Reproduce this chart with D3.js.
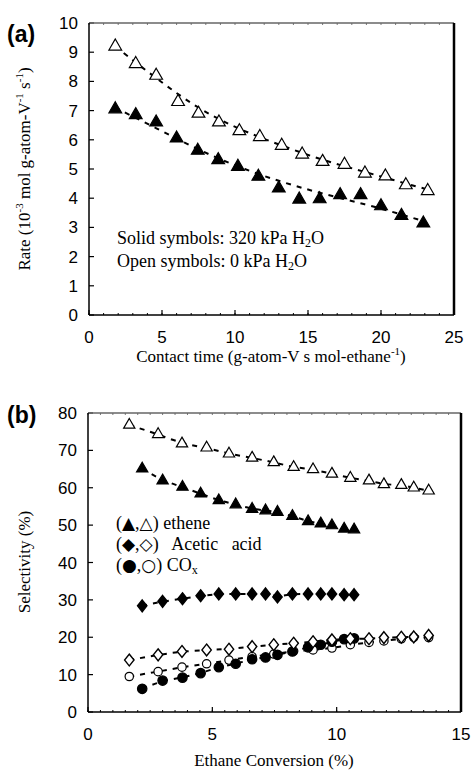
<!DOCTYPE html>
<html><head><meta charset="utf-8">
<script src="https://cdn.jsdelivr.net/npm/d3@7"></script>
<style>body{margin:0;background:#fff}svg{display:block}</style>
</head><body>
<svg id="c" width="473" height="770"></svg>
<script>
// ---- Panel (a) data ----
const aOpenX = [1.8,3.2,4.6,6.1,7.5,8.9,10.3,11.7,13.2,14.6,16.0,17.5,18.9,20.3,21.7,23.2];
const aOpenY = [9.2,8.6,8.2,7.3,6.9,6.6,6.3,6.1,5.8,5.5,5.25,5.15,4.85,4.75,4.45,4.25];
const aSolidX = [1.8,3.2,4.6,6.0,7.45,8.85,10.2,11.6,13.0,14.4,15.8,17.2,18.6,20.0,21.4,22.9];
const aSolidY = [7.05,6.85,6.6,6.05,5.63,5.31,5.08,4.74,4.34,3.96,3.97,4.11,4.11,3.73,3.4,3.14];
const aOpenTrendX = [1.8,4.6,7.5,10.3,13.2,16.0,18.9,21.7,23.2];
const aOpenTrendY = [9.2,8.1,7.05,6.35,5.8,5.3,4.9,4.5,4.3];
const aSolidTrendX = [1.8,4.6,7.5,10.3,13.2,16.0,18.9,21.7,23.0];
const aSolidTrendY = [7.1,6.4,5.65,5.05,4.55,4.15,3.8,3.4,3.2];
const aXTicks = [0,5,10,15,20,25];
const aYTicks = [0,1,2,3,4,5,6,7,8,9,10];

// ---- Panel (b) data ----
const bOpenX = [1.66,2.82,3.78,4.77,5.67,6.6,7.47,8.27,9.05,9.81,10.55,11.3,11.9,12.6,13.1,13.7];
const bSolidX = [2.18,3.0,3.8,4.53,5.26,5.94,6.6,7.14,7.62,8.22,8.85,9.36,9.81,10.3,10.7];
const bEtheneOpen = [76.8,74.3,71.8,70.7,69.1,68.0,66.8,65.5,64.9,63.7,62.6,61.9,60.9,60.7,60.0,59.2];
const bEtheneSolid = [65.1,61.9,60.2,58.4,56.6,55.5,54.3,53.9,53.5,52.4,51.0,50.4,49.9,49.0,48.8];
const bAceticOpen = [13.9,15.3,16.2,16.6,16.8,17.5,18.0,18.4,18.8,19.3,19.6,19.6,19.9,20.0,20.1,20.5];
const bAceticSolid = [28.4,29.6,30.3,31.1,31.6,31.6,31.6,31.6,30.8,31.6,31.6,31.6,31.6,31.4,31.4];
const bCOxOpen = [9.5,10.8,12.0,12.9,13.9,14.8,15.5,16.3,16.6,17.1,18.0,18.6,19.0,19.6,20.0,19.9];
const bCOxSolid = [6.2,8.4,9.2,10.4,12.0,12.9,14.1,14.6,15.3,16.2,17.3,18.0,18.8,19.5,19.7];
const bXTicks = [0,5,10,15];
const bYTicks = [0,10,20,30,40,50,60,70,80];

const svg = d3.select('#c');
const serif = '"Liberation Serif","Times New Roman",serif';
const sans = '"Liberation Sans",Arial,sans-serif';

function frame(g, x, y, xMax, yMax, xMinorStep, xTicks, yTicks) {
  const [x0, x1] = x.range(), [y1, y0] = y.range();
  const minors = d3.range(0, xMax + 1e-9, xMinorStep);
  g.append('g').selectAll('line').data(minors).join('line')
    .attr('x1', d => x(d)).attr('x2', d => x(d))
    .attr('y1', y1).attr('y2', y1 - 2).attr('stroke', '#000').attr('stroke-width', 1);
  g.append('g').selectAll('line').data(minors).join('line')
    .attr('x1', d => x(d)).attr('x2', d => x(d))
    .attr('y1', y0).attr('y2', y0 + 2).attr('stroke', '#777').attr('stroke-width', 1);
  g.append('g').selectAll('line').data(xTicks).join('line')
    .attr('x1', d => x(d)).attr('x2', d => x(d))
    .attr('y1', y1).attr('y2', y1 - 5).attr('stroke', '#000').attr('stroke-width', 1.2);
  g.append('g').selectAll('line').data(yTicks).join('line')
    .attr('x1', x0).attr('x2', x0 + 5)
    .attr('y1', d => y(d)).attr('y2', d => y(d)).attr('stroke', '#000').attr('stroke-width', 1.2);
  g.append('line').attr('x1', x0).attr('x2', x1).attr('y1', y0).attr('y2', y0).attr('stroke', '#666').attr('stroke-width', 1.5);
  g.append('line').attr('x1', x1).attr('x2', x1).attr('y1', y0).attr('y2', y1).attr('stroke', '#000').attr('stroke-width', 2.5);
  g.append('line').attr('x1', x0).attr('x2', x0).attr('y1', y0).attr('y2', y1).attr('stroke', '#000').attr('stroke-width', 1.5);
  g.append('line').attr('x1', x0).attr('x2', x1).attr('y1', y1).attr('y2', y1).attr('stroke', '#000').attr('stroke-width', 1.5);
  g.append('g').selectAll('text').data(xTicks).join('text')
    .attr('x', d => x(d)).attr('y', y1 + 28).attr('text-anchor', 'middle')
    .attr('font-family', sans).attr('font-size', 17).text(d => d);
  g.append('g').selectAll('text').data(yTicks).join('text')
    .attr('x', x0 - 11).attr('y', d => y(d) + 6).attr('text-anchor', 'end')
    .attr('font-family', sans).attr('font-size', 17).text(d => d);
}

function dash(g, xs, ys, x, y, curve) {
  const pts = xs.map((d, i) => [d, ys[i]]);
  g.append('path').attr('d', d3.line().x(d => x(d[0])).y(d => y(d[1])).curve(curve)(pts))
    .attr('fill', 'none').attr('stroke', '#000').attr('stroke-width', 2).attr('stroke-dasharray', '5,6');
}
function marks(g, xs, ys, x, y, type, size, filled) {
  const sym = d3.symbol(type, size);
  g.append('g').selectAll('path').data(xs.map((d, i) => [d, ys[i]])).join('path')
    .attr('transform', d => `translate(${x(d[0])},${y(d[1])})` + (type === d3.symbolDiamond ? ' scale(1.3,0.95)' : ''))
    .attr('d', sym).attr('fill', filled ? '#000' : '#fff').attr('stroke', '#000').attr('stroke-width', 1.2);
}

// ---------- Panel (a) ----------
const ga = svg.append('g');
const xa = d3.scaleLinear().domain([0, 25]).range([89, 454]);
const ya = d3.scaleLinear().domain([0, 10]).range([315, 23]);
frame(ga, xa, ya, 25, 10, 1, aXTicks, aYTicks);
dash(ga, aOpenTrendX, aOpenTrendY, xa, ya, d3.curveBasis);
dash(ga, aSolidTrendX, aSolidTrendY, xa, ya, d3.curveBasis);
marks(ga, aOpenX, aOpenY, xa, ya, d3.symbolTriangle, 70, false);
marks(ga, aSolidX, aSolidY, xa, ya, d3.symbolTriangle, 70, true);

ga.append('text').attr('x', 7).attr('y', 42).attr('font-family', sans).attr('font-weight', 'bold')
  .attr('font-size', 23).text('(a)');
const ta = ga.append('text').attr('transform', 'translate(30,169) rotate(-90)').attr('text-anchor', 'middle')
  .attr('font-family', serif).attr('font-size', 17);
ta.append('tspan').text('Rate (10');
ta.append('tspan').attr('font-size', 11).attr('dy', -7).text('-3');
ta.append('tspan').attr('dy', 7).text(' mol g-atom-V');
ta.append('tspan').attr('font-size', 11).attr('dy', -7).text('-1');
ta.append('tspan').attr('dy', 7).text(' s');
ta.append('tspan').attr('font-size', 11).attr('dy', -7).text('-1');
ta.append('tspan').attr('dy', 7).text(')');
const xla = ga.append('text').attr('x', 271).attr('y', 362).attr('text-anchor', 'middle')
  .attr('font-family', serif).attr('font-size', 17);
xla.append('tspan').text('Contact time (g-atom-V s mol-ethane');
xla.append('tspan').attr('font-size', 11).attr('dy', -7).text('-1');
xla.append('tspan').attr('dy', 7).text(')');
function h2o(g, x, yy, label) {
  const t = g.append('text').attr('x', x).attr('y', yy).attr('font-family', serif).attr('font-size', 18);
  t.append('tspan').text(label + ' H');
  t.append('tspan').attr('font-size', 12).attr('dy', 3).text('2');
  t.append('tspan').attr('dy', -3).text('O');
}
h2o(ga, 117, 244, 'Solid symbols: 320 kPa');
h2o(ga, 117, 267, 'Open symbols: 0 kPa');

// ---------- Panel (b) ----------
const gb = svg.append('g');
const xb = d3.scaleLinear().domain([0, 15]).range([88, 461]);
const yb = d3.scaleLinear().domain([0, 80]).range([712, 413]);
frame(gb, xb, yb, 15, 80, 0.5, bXTicks, bYTicks);
[[bOpenX, bEtheneOpen], [bSolidX, bEtheneSolid], [bOpenX, bAceticOpen], [bSolidX, bAceticSolid],
 [bOpenX, bCOxOpen], [bSolidX, bCOxSolid]].forEach(([xs, ys]) => dash(gb, xs, ys, xb, yb, d3.curveBasis));
marks(gb, bOpenX, bCOxOpen, xb, yb, d3.symbolCircle, 55, false);
marks(gb, bSolidX, bCOxSolid, xb, yb, d3.symbolCircle, 70, true);
marks(gb, bOpenX, bAceticOpen, xb, yb, d3.symbolDiamond, 45, false);
marks(gb, bSolidX, bAceticSolid, xb, yb, d3.symbolDiamond, 45, true);
marks(gb, bOpenX, bEtheneOpen, xb, yb, d3.symbolTriangle, 55, false);
marks(gb, bSolidX, bEtheneSolid, xb, yb, d3.symbolTriangle, 55, true);

gb.append('text').attr('x', 7).attr('y', 423).attr('font-family', sans).attr('font-weight', 'bold')
  .attr('font-size', 23).text('(b)');
gb.append('text').attr('transform', 'translate(30,562) rotate(-90)').attr('text-anchor', 'middle')
  .attr('font-family', serif).attr('font-size', 17).text('Selectivity (%)');
gb.append('text').attr('x', 274).attr('y', 766).attr('text-anchor', 'middle')
  .attr('font-family', serif).attr('font-size', 17).text('Ethane Conversion (%)');
const symFont = '"DejaVu Sans",sans-serif';
function legendLine(yy, s1, s2, label, sub) {
  const t = gb.append('text').attr('x', 116).attr('y', yy).attr('font-family', serif).attr('font-size', 18)
    .style('white-space', 'pre');
  t.append('tspan').text('(');
  t.append('tspan').attr('font-family', symFont).attr('font-size', 17).text(s1);
  t.append('tspan').text(',');
  t.append('tspan').attr('font-family', symFont).attr('font-size', 17).text(s2);
  t.append('tspan').text(label);
  if (sub) t.append('tspan').attr('font-size', 12).attr('dy', 3).text(sub);
}
legendLine(529, '▲', '△', ') ethene');
legendLine(550, '◆', '◇', ')   Acetic   acid');
legendLine(571, '●', '○', ') CO', 'x');
</script>
</body></html>
